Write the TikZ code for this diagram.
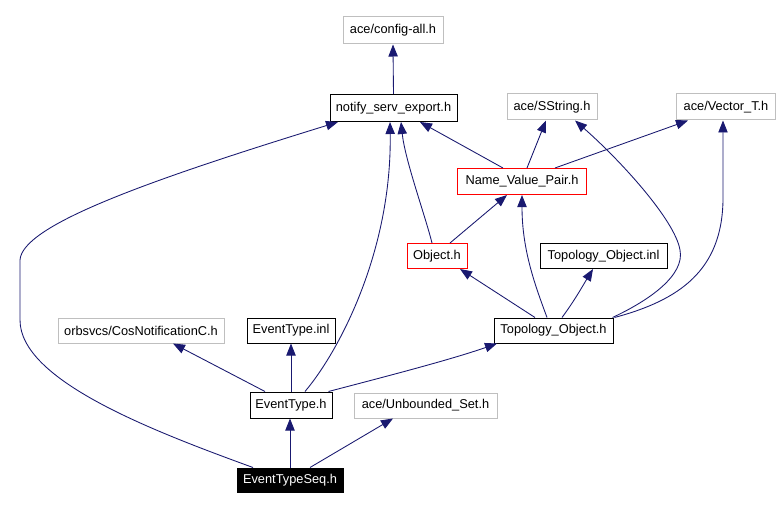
\documentclass[tikz,border=0pt]{standalone}
\usepackage{fontspec}
\setmainfont{Liberation Sans}
\usetikzlibrary{arrows.meta,calc}
\definecolor{navy}{RGB}{25,25,112}
\definecolor{boxgray}{RGB}{191,191,191}
\tikzset{
  box/.style 2 args={draw, line width=0.75pt, inner sep=0pt, font=\fontsize{9.6}{11}\selectfont,
    minimum width=#1*0.75pt, minimum height=#2*0.75pt},
  graybox/.style={draw=boxgray},
  redbox/.style={draw=red},
  blackbox/.style={draw=black},
  curbox/.style={draw=black, fill=black, text=white},
  dep/.style={draw=navy, line width=0.65pt, -{Triangle[length=9pt,width=7pt,fill=navy]}}
}
\begin{document}
\begin{tikzpicture}[x=0.75pt,y=-0.75pt]
\useasboundingbox[fill=white] (0,0) rectangle (779,510);
% nodes
\node[box={100}{27},graybox]  (cfg) at (393,30.5)   {ace/config-all.h};
\node[box={127}{27},blackbox] (nse) at (393.5,108)  {notify\_serv\_export.h};
\node[box={90}{26},graybox]   (ss)  at (552,107)    {ace/SString.h};
\node[box={99}{26},graybox]   (vt)  at (726,107)    {ace/Vector\_T.h};
\node[box={129}{26},redbox]   (nvp) at (522,181.5)  {Name\_Value\_Pair.h};
\node[box={60}{25},redbox]    (obj) at (437,256)    {Object.h};
\node[box={127}{25},blackbox] (toi) at (603.5,256)  {Topology\_Object.inl};
\node[box={119}{25},blackbox] (toh) at (553.5,330.5){Topology\_Object.h};
\node[box={166}{25},graybox]  (cos) at (141,330.5)  {orbsvcs/CosNotificationC.h};
\node[box={88}{25},blackbox]  (eti) at (291,330.5)  {EventType.inl};
\node[box={82}{26},blackbox]  (eth) at (291,405)    {EventType.h};
\node[box={143}{25},graybox]  (us)  at (425.5,405.5){ace/Unbounded\_Set.h};
\node[box={106}{24},curbox]   (ets) at (290,480)    {EventTypeSeq.h};
% edges
\draw[dep] (nse.north) -- (cfg.south);
\draw[dep] ($(nvp.north)+(-19,0)$) -- ($(nse.south)+(26.5,0)$);
\draw[dep] ($(nvp.north)+(5,0)$) -- ($(ss.south)+(-6,0)$);
\draw[dep] ($(nvp.north)+(33,0)$) -- ($(vt.south)+(-38,0)$);
\draw[dep] ($(obj.north)+(-5,0)$) .. controls (425,215) and (405,160) .. ($(nse.south)+(7.5,0)$);
\draw[dep] ($(obj.north)+(13,0)$) -- ($(nvp.south)+(-15,0)$);
\draw[dep] ($(toh.north)+(-18.5,0)$) -- ($(obj.south)+(23,0)$);
\draw[dep] ($(toh.north)+(-6.5,0)$) .. controls (535,285) and (522,250) .. (nvp.south);
\draw[dep] ($(toh.north)+(8.5,0)$) .. controls (575,300) and (585,282) .. ($(toi.south)+(-10.5,0)$);
\draw[dep] ($(toh.north east)+(-1,0)$) .. controls (650,300) and (685,275) .. (680,250)
   .. controls (675,220) and (620,160) .. ($(ss.south)+(23,0)$);
\draw[dep] ($(toh.north east)+(1,0)$) .. controls (680,300) and (722,270) .. (723,200)
   -- ($(vt.south)+(-3,0)$);
\draw[dep] ($(eth.north)+(-26,0)$) -- ($(cos.south)+(32,0)$);
\draw[dep] (eth.north) -- (eti.south);
\draw[dep] ($(eth.north)+(14,0)$) .. controls (340,350) and (392,250) .. ($(nse.south)+(-3.5,0)$);
\draw[dep] ($(eth.north east)+(-4,0)$) .. controls (380,378) and (450,360) .. ($(toh.south)+(-56.5,0)$);
\draw[dep] (ets.north) -- (ets.north |- eth.south);
\draw[dep] ($(ets.north)+(20,0)$) -- ($(us.south)+(-32.5,0)$);
\draw[dep] ($(ets.north)+(-37,0)$) .. controls (150,430) and (20,380) .. (20,320)
   -- (20,260) .. controls (22,225) and (150,180) .. ($(nse.south)+(-55.5,0)$);
\end{tikzpicture}
\end{document}
